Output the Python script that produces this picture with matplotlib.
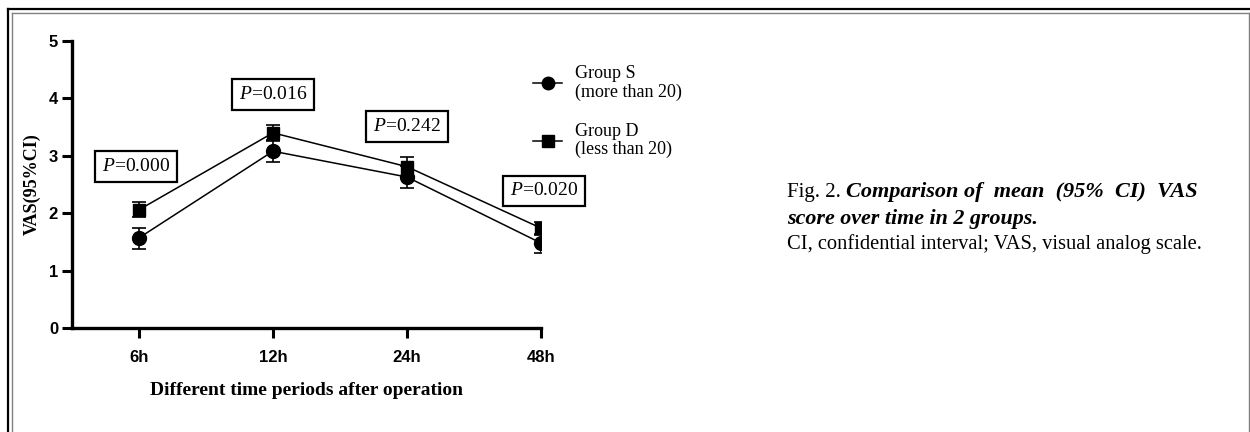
import matplotlib.pyplot as plt
from matplotlib.lines import Line2D
import numpy as np

time_labels = ['6h', '12h', '24h', '48h']
group_s = [1.57, 3.08, 2.63, 1.48]
group_s_lo = [1.38, 2.89, 2.44, 1.31]
group_s_hi = [1.75, 3.27, 2.82, 1.64]
group_d = [2.06, 3.40, 2.81, 1.74]
group_d_lo = [1.93, 3.26, 2.65, 1.62]
group_d_hi = [2.20, 3.53, 2.98, 1.84]
p_values = ['0.000', '0.016', '0.242', '0.020']
p_box_y = [2.81, 4.07, 3.51, 2.39]
p_box_dx = [-0.02, 0.0, 0.0, 0.02]
legend_labels = ['Group S\n(more than 20)', 'Group D\n(less than 20)']

serif = 'Liberation Serif'
sans = 'Liberation Sans'
plt.rcParams['mathtext.fontset'] = 'custom'
plt.rcParams['mathtext.rm'] = 'Liberation Serif'
plt.rcParams['mathtext.it'] = 'Liberation Serif:italic'

fig = plt.figure(figsize=(12.5, 4.32), dpi=100)

# double frame round the figure
fig.add_artist(Line2D([7.5/1250, 7.5/1250], [0, 1 - 8.5/432], transform=fig.transFigure, color='black', lw=1.6))
fig.add_artist(Line2D([7.5/1250, 1.0], [1 - 8.5/432, 1 - 8.5/432], transform=fig.transFigure, color='black', lw=1.6))
fig.add_artist(Line2D([12/1250, 12/1250], [0, 1 - 13/432], transform=fig.transFigure, color='#808080', lw=1.0))
fig.add_artist(Line2D([12/1250, 1249/1250], [1 - 13/432, 1 - 13/432], transform=fig.transFigure, color='#808080', lw=1.0))
fig.add_artist(Line2D([1249/1250, 1249/1250], [0, 1 - 13/432], transform=fig.transFigure, color='#808080', lw=1.0))

ax = fig.add_axes([72/1250, 1 - 328/432, (541 - 72)/1250, (328 - 41)/432])
x = np.arange(1, 5)

s = np.array(group_s)
d = np.array(group_d)
err_s = [s - np.array(group_s_lo), np.array(group_s_hi) - s]
err_d = [d - np.array(group_d_lo), np.array(group_d_hi) - d]

ax.errorbar(x, s, yerr=err_s, fmt='-o', color='black', lw=1.1, markersize=10,
            ecolor='black', elinewidth=1.2, capsize=5, capthick=1.2, zorder=3)
ax.errorbar(x, d, yerr=err_d, fmt='-s', color='black', lw=1.1, markersize=9,
            ecolor='black', elinewidth=1.2, capsize=5, capthick=1.2, zorder=3)

for xi, py, dx, pv in zip(x, p_box_y, p_box_dx, p_values):
    ax.text(xi + dx, py, r'$P$=' + pv, ha='center', va='center', fontsize=14,
            family=serif,
            bbox=dict(boxstyle='square,pad=0.35', facecolor='white', edgecolor='black', lw=1.6))

ax.set_xlim(0.5, 4.0)
ax.set_ylim(0, 5)
ax.set_xticks(x)
ax.set_xticklabels(time_labels)
ax.set_yticks(range(0, 6))
for sp in ['top', 'right']:
    ax.spines[sp].set_visible(False)
for sp in ['left', 'bottom']:
    ax.spines[sp].set_linewidth(2.4)
ax.tick_params(width=2.2, length=7, direction='out', pad=3)
for lab in ax.get_xticklabels() + ax.get_yticklabels():
    lab.set_family(sans)
    lab.set_fontweight('bold')
    lab.set_fontsize(12)
ax.tick_params(axis='x', pad=9)

ax.set_ylabel('VAS(95%CI)', family=serif, fontweight='bold', fontsize=13, labelpad=6)
ax.set_xlabel('Different time periods after operation', family=serif, fontweight='bold',
              fontsize=14, labelpad=12)

handles = [Line2D([], [], color='black', lw=1.1, marker='o', markersize=9),
           Line2D([], [], color='black', lw=1.1, marker='s', markersize=8)]
leg = fig.legend(handles, legend_labels, loc='upper left',
                 bbox_to_anchor=(526/1250, 1 - 58/432), frameon=False,
                 prop={'family': serif, 'size': 13}, handlelength=1.6, labelspacing=1.2,
                 handletextpad=0.7, borderaxespad=0)
for t in leg.get_texts():
    t.set_linespacing(1.1)

# caption on the right
fig.canvas.draw()
renderer = fig.canvas.get_renderer()
cap_x = 787 / 1250
y1 = 1 - 192 / 432
t1 = fig.text(cap_x, y1, 'Fig. 2. ', family=serif, fontsize=15, va='center')
bb = t1.get_window_extent(renderer)
fig.text(bb.x1 / 1250, y1, 'Comparison of  mean  (95%  CI)  VAS', family=serif, fontsize=16,
         style='italic', fontweight='bold', va='center')
fig.text(cap_x, 1 - 219 / 432, 'score over time in 2 groups.', family=serif, fontsize=15.8,
         style='italic', fontweight='bold', va='center')
fig.text(cap_x, 1 - 244 / 432, 'CI, confidential interval; VAS, visual analog scale.', family=serif,
         fontsize=14.8, va='center')

plt.savefig('out.png', dpi=100)
